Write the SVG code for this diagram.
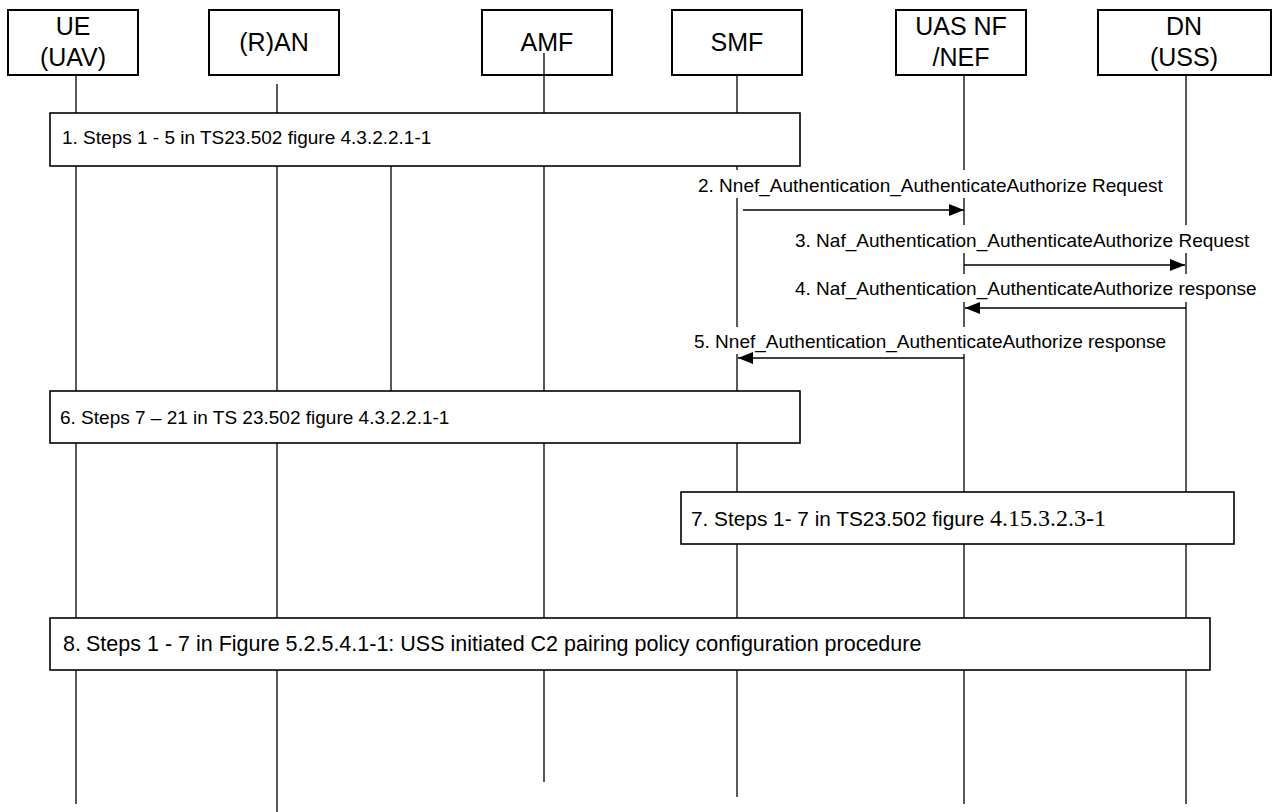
<svg xmlns="http://www.w3.org/2000/svg" width="1273" height="812" viewBox="0 0 1273 812">
<style>
  .hdr { fill: #fff; stroke: #000; stroke-width: 2; }
  .step { fill: #fff; stroke: #000; stroke-width: 1.6; }
  .life { stroke: #000; stroke-width: 1.3; fill: none; }
  .msg { stroke: #000; stroke-width: 1.3; fill: none; marker-end: url(#ah); }
  .ht { font-family: "Liberation Sans", Arial, sans-serif; font-size: 25px; fill: #000; text-anchor: middle; }
  .lt { font-family: "Liberation Sans", Arial, sans-serif; font-size: 19px; fill: #000; }
  .bg { fill: #fff; stroke: none; }
</style>
<defs>
  <marker id="ah" markerWidth="16" markerHeight="12" refX="15" refY="6" orient="auto" markerUnits="userSpaceOnUse">
    <path d="M0,0 L15,6 L0,12 Z" fill="#000"/>
  </marker>
</defs>
<rect width="1273" height="812" fill="#fff"/>

<g id="lifelines">
  <line class="life" x1="76" y1="75" x2="76" y2="804"/>
  <line class="life" x1="277" y1="84" x2="277" y2="812"/>
  <line class="life" x1="391" y1="166" x2="391" y2="391"/>
  <line class="life" x1="544" y1="53" x2="544" y2="782"/>
  <line class="life" x1="737" y1="76" x2="737" y2="797"/>
  <line class="life" x1="964" y1="76" x2="964" y2="804"/>
  <line class="life" x1="1186" y1="76" x2="1186" y2="804"/>
</g>

<g id="node-ue">
  <rect class="hdr" x="8" y="10" width="130" height="65"/>
  <text class="ht" x="73" y="35">UE</text>
  <text class="ht" x="73" y="66">(UAV)</text>
</g>
<g id="node-ran">
  <rect class="hdr" x="209" y="10" width="130" height="65"/>
  <text class="ht" x="274" y="51">(R)AN</text>
</g>
<g id="node-amf">
  <rect class="hdr" x="482" y="10" width="130" height="65" fill="none" style="fill:none"/>
  <text class="ht" x="547" y="51">AMF</text>
</g>
<g id="node-smf">
  <rect class="hdr" x="672" y="10" width="130" height="65"/>
  <text class="ht" x="737" y="51">SMF</text>
</g>
<g id="node-uas">
  <rect class="hdr" x="896" y="10" width="130" height="65"/>
  <text class="ht" x="961" y="35">UAS NF</text>
  <text class="ht" x="961" y="66">/NEF</text>
</g>
<g id="node-dn">
  <rect class="hdr" x="1098" y="10" width="173" height="65"/>
  <text class="ht" x="1184" y="35">DN</text>
  <text class="ht" x="1184" y="66">(USS)</text>
</g>

<g id="step1">
  <rect class="step" x="50" y="113" width="750" height="53"/>
  <text class="lt" x="62" y="144">1. Steps 1 - 5 in TS23.502 figure 4.3.2.2.1-1</text>
</g>

<g id="connectors">
  <rect class="bg" x="698" y="170" width="466" height="28"/>
  <text class="lt" x="698" y="192">2. Nnef_Authentication_AuthenticateAuthorize Request</text>
  <line class="msg" x1="743" y1="210" x2="964" y2="210"/>

  <rect class="bg" x="795" y="225" width="463" height="28"/>
  <text class="lt" x="795" y="247">3. Naf_Authentication_AuthenticateAuthorize Request</text>
  <line class="msg" x1="964" y1="265" x2="1185" y2="265"/>

  <rect class="bg" x="795" y="274" width="470" height="28"/>
  <text class="lt" x="795" y="295">4. Naf_Authentication_AuthenticateAuthorize response</text>
  <line class="msg" x1="1186" y1="308" x2="965" y2="308"/>

  <rect class="bg" x="694" y="327" width="473" height="27"/>
  <text class="lt" x="694" y="348">5. Nnef_Authentication_AuthenticateAuthorize response</text>
  <line class="msg" x1="964" y1="358" x2="738" y2="358"/>
</g>

<g id="step6">
  <rect class="step" x="50" y="391" width="750" height="52"/>
  <text class="lt" x="60" y="424">6. Steps 7 – 21 in TS 23.502 figure 4.3.2.2.1-1</text>
</g>

<g id="step7">
  <rect class="step" x="681" y="492" width="553" height="52"/>
  <text class="lt" x="691" y="526" style="font-size:20.8px">7. Steps 1- 7 in TS23.502 figure <tspan style="font-family:'Liberation Serif','Times New Roman',serif;font-size:24px">4.15.3.2.3-1</tspan></text>
</g>

<g id="step8">
  <rect class="step" x="50" y="618" width="1160" height="52"/>
  <text class="lt" x="63" y="651" style="font-size:21.5px">8.<tspan x="86">Steps 1 - 7 in Figure 5.2.5.4.1-1: USS initiated C2 pairing policy configuration procedure</tspan></text>
</g>
</svg>
